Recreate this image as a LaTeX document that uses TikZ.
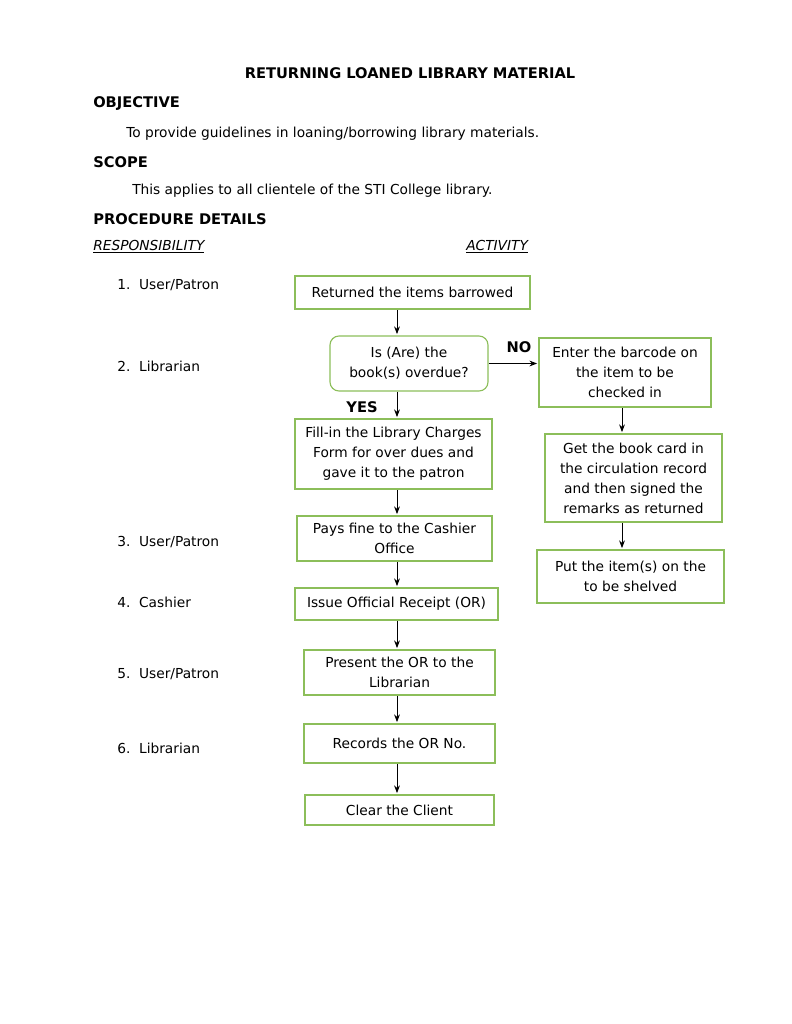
\documentclass[tikz,border=0pt]{standalone}
\usepackage{fontspec}
\setmainfont{DejaVu Sans}
\usetikzlibrary{arrows.meta,backgrounds}
\pgfdeclarelayer{edgelayer}
\pgfdeclarelayer{nodelayer}
\pgfsetlayers{edgelayer,nodelayer,main}
\newcommand\px{0.7776pt}
\definecolor{boxgreen}{RGB}{140,190,90}
\tikzset{font=\fontsize{10.7}{15.5}\selectfont}
\tikzstyle{none}=[inner sep=0pt]
\tikzstyle{txt}=[inner sep=0pt,anchor=west]
\tikzstyle{bold}=[inner sep=0pt,font=\fontsize{11.4}{13}\selectfont\bfseries]
\tikzstyle{head}=[bold,anchor=west]
\tikzstyle{proc}=[draw=boxgreen,line width=0.9pt,align=center,inner sep=2pt]
\tikzstyle{dec}=[proc,rounded corners=7pt]
\tikzstyle{arr}=[-{Stealth[length=6pt,width=4.5pt]},line width=0.7pt,shorten >=1pt]
\newcommand\numitem[2]{\makebox[17pt][l]{#1}#2}

\begin{document}
\begin{tikzpicture}[x=\px,y=-\px]
	\useasboundingbox (0,0) rectangle (791,1024);
	\begin{pgfonlayer}{nodelayer}
		% headings
		\node [style=bold] (t) at (410, 73) {RETURNING LOANED LIBRARY MATERIAL};
		\node [style=head] (h1) at (93, 104) {OBJECTIVE};
		\node [style=txt] (p1) at (126, 134) {To provide guidelines in loaning/borrowing library materials.};
		\node [style=head] (h2) at (93, 162) {SCOPE};
		\node [style=txt] (p2) at (132, 191) {This applies to all clientele of the STI College library.};
		\node [style=head] (h3) at (93, 219) {PROCEDURE DETAILS};
		\node [style=txt] (r) at (93, 247) {\underline{\itshape RESPONSIBILITY}};
		\node [style=txt] (a) at (466, 247) {\underline{\itshape ACTIVITY}};
		% responsibility column
		\node [style=txt] (r1) at (117, 285) {\numitem{1.}{User/Patron}};
		\node [style=txt] (r2) at (117, 366) {\numitem{2.}{Librarian}};
		\node [style=txt] (r3) at (117, 542) {\numitem{3.}{User/Patron}};
		\node [style=txt] (r4) at (117, 602) {\numitem{4.}{Cashier}};
		\node [style=txt] (r5) at (117, 674) {\numitem{5.}{User/Patron}};
		\node [style=txt] (r6) at (117, 748) {\numitem{6.}{Librarian}};
		% activity column
		\node [style=proc,minimum width=235*\px,minimum height=33*\px] (0) at (412.5, 292.5) {Returned the items barrowed};
		\node [style=dec,minimum width=158*\px,minimum height=55*\px] (1) at (409, 363.5) {Is (Are) the\\book(s) overdue?};
		\node [style=proc,minimum width=197*\px,minimum height=70*\px] (2) at (393.5, 454) {Fill-in the Library Charges\\Form for over dues and\\gave it to the patron};
		\node [style=proc,minimum width=195*\px,minimum height=45*\px] (3) at (394.5, 538.5) {Pays fine to the Cashier\\Office};
		\node [style=proc,minimum width=203*\px,minimum height=32*\px] (4) at (396.5, 604) {Issue Official Receipt (OR)};
		\node [style=proc,minimum width=191*\px,minimum height=45*\px] (5) at (399.5, 672.5) {Present the OR to the\\Librarian};
		\node [style=proc,minimum width=191*\px,minimum height=39*\px] (6) at (399.5, 743.5) {Records the OR No.};
		\node [style=proc,minimum width=189*\px,minimum height=30*\px] (7) at (399.5, 810) {Clear the Client};
		\node [style=proc,minimum width=172*\px,minimum height=69*\px] (8) at (625, 372.5) {Enter the barcode on\\the item to be\\checked in};
		\node [style=proc,minimum width=177*\px,minimum height=88*\px] (9) at (633.5, 478) {Get the book card in\\the circulation record\\and then signed the\\remarks as returned};
		\node [style=proc,minimum width=187*\px,minimum height=53*\px] (10) at (630.5, 576.5) {Put the item(s) on the\\to be shelved};
		\node [style=bold] (no) at (519, 347) {NO};
		\node [style=bold] (yes) at (362, 407) {YES};
		\coordinate (s) at (397, 0);
		\coordinate (s2) at (622, 0);
	\end{pgfonlayer}
	\begin{pgfonlayer}{edgelayer}
		\draw [style=arr] (0.south -| s) to (1.north -| s);
		\draw [style=arr] (1.south -| s) to (2.north -| s);
		\draw [style=arr] (2.south -| s) to (3.north -| s);
		\draw [style=arr] (3.south -| s) to (4.north -| s);
		\draw [style=arr] (4.south -| s) to (5.north -| s);
		\draw [style=arr] (5.south -| s) to (6.north -| s);
		\draw [style=arr] (6.south -| s) to (7.north -| s);
		\draw [style=arr] (1.east) to (8.west |- 1.east);
		\draw [style=arr] (8.south -| s2) to (9.north -| s2);
		\draw [style=arr] (9.south -| s2) to (10.north -| s2);
	\end{pgfonlayer}
\end{tikzpicture}
\end{document}
